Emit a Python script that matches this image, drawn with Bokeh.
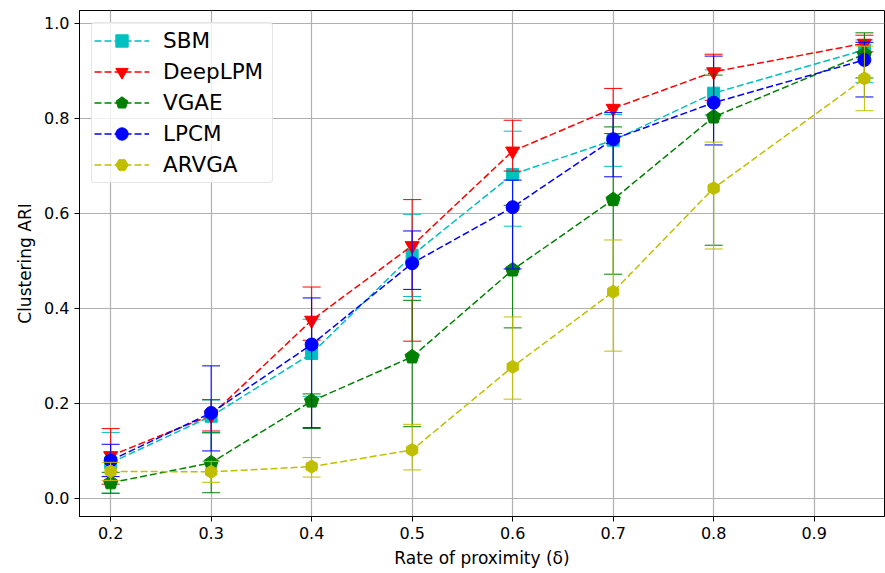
import numpy as np
from bokeh.plotting import figure
from bokeh.models import (ColumnDataSource, FixedTicker, Legend, LegendItem,
                          Range1d, PrintfTickFormatter)
from bokeh.embed import file_html
from bokeh.resources import INLINE

# ---- data ----
delta = [0.2, 0.3, 0.4, 0.5, 0.6, 0.7, 0.8, 0.95]

sbm_mean = [0.075, 0.173, 0.305, 0.512, 0.682, 0.754, 0.853, 0.944]
sbm_low = [0.011, 0.139, 0.215, 0.425, 0.573, 0.699, 0.807, 0.875]
sbm_high = [0.139, 0.207, 0.377, 0.598, 0.773, 0.808, 0.902, 0.965]

deeplpm_mean = [0.090, 0.175, 0.375, 0.532, 0.731, 0.821, 0.898, 0.958]
deeplpm_low = [0.030, 0.142, 0.333, 0.331, 0.689, 0.768, 0.838, 0.940]
deeplpm_high = [0.147, 0.208, 0.445, 0.629, 0.796, 0.863, 0.935, 0.975]

vgae_mean = [0.033, 0.075, 0.205, 0.298, 0.481, 0.629, 0.803, 0.935]
vgae_low = [0.011, 0.012, 0.147, 0.151, 0.359, 0.472, 0.533, 0.885]
vgae_high = [0.055, 0.138, 0.220, 0.417, 0.617, 0.782, 0.891, 0.980]

lpcm_mean = [0.080, 0.180, 0.324, 0.495, 0.613, 0.756, 0.833, 0.923]
lpcm_low = [0.046, 0.100, 0.149, 0.440, 0.483, 0.677, 0.744, 0.845]
lpcm_high = [0.114, 0.279, 0.422, 0.563, 0.670, 0.812, 0.931, 0.960]

arvga_mean = [0.057, 0.056, 0.067, 0.102, 0.277, 0.435, 0.653, 0.884]
arvga_low = [0.038, 0.034, 0.045, 0.060, 0.209, 0.310, 0.525, 0.816]
arvga_high = [0.076, 0.078, 0.086, 0.156, 0.382, 0.544, 0.750, 0.952]

x_ticks = [0.2, 0.3, 0.4, 0.5, 0.6, 0.7, 0.8, 0.9]
y_ticks = [0.0, 0.2, 0.4, 0.6, 0.8, 1.0]

series = [
    ("SBM", sbm_mean, sbm_low, sbm_high, "#00bfbf", "square"),
    ("DeepLPM", deeplpm_mean, deeplpm_low, deeplpm_high, "#ff0000", "inverted_triangle"),
    ("VGAE", vgae_mean, vgae_low, vgae_high, "#008000", "pentagon"),
    ("LPCM", lpcm_mean, lpcm_low, lpcm_high, "#0000ff", "circle"),
    ("ARVGA", arvga_mean, arvga_low, arvga_high, "#bfbf00", "hex"),
]

FONT = "DejaVu Sans"

p = figure(width=885, height=573, output_backend="svg", toolbar_location=None,
           x_range=Range1d(0.169, 0.970), y_range=Range1d(-0.038, 1.027),
           min_border_left=79, min_border_right=1, min_border_top=10,
           min_border_bottom=57)
p.background_fill_color = "white"
p.border_fill_color = "white"
p.outline_line_color = "black"
p.outline_line_width = 1

items = []
for name, mean, low, high, color, marker in series:
    src = ColumnDataSource(dict(x=delta, y=mean, low=low, high=high))
    p.segment(x0="x", y0="low", x1="x", y1="high", source=src,
              line_color=color, line_width=1)
    p.scatter(x="x", y="low", source=src, marker="dash", size=18,
              line_color=color, line_width=1)
    p.scatter(x="x", y="high", source=src, marker="dash", size=18,
              line_color=color, line_width=1)
    ln = p.line(x="x", y="y", source=src, line_color=color, line_width=1.5,
                line_dash="7 3")
    if marker == "pentagon":
        mk = p.ngon(x="x", y="y", source=src, radius=7.5, radius_units="screen",
                    n=5, angle=0, fill_color=color, line_color=color)
    elif marker == "hex":
        mk = p.scatter(x="x", y="y", source=src, marker="hex", size=13,
                       angle=np.pi / 6, fill_color=color, line_color=color)
    elif marker == "square":
        mk = p.scatter(x="x", y="y", source=src, marker="square", size=12,
                       fill_color=color, line_color=color)
    elif marker == "inverted_triangle":
        mk = p.scatter(x="x", y="y", source=src, marker="inverted_triangle",
                       size=14, fill_color=color, line_color=color)
    else:
        mk = p.scatter(x="x", y="y", source=src, marker="circle", size=13,
                       fill_color=color, line_color=color)
    items.append(LegendItem(label=name, renderers=[ln, mk]))

legend = Legend(items=items, location="top_left")
legend.margin = 12
legend.padding = 2
legend.spacing = 0
legend.glyph_width = 55
legend.glyph_height = 31
legend.label_height = 31
legend.label_width = 107
legend.label_standoff = 14
legend.label_text_font = FONT
legend.label_text_font_size = "21.5px"
legend.label_text_color = "black"
legend.border_line_color = "#cccccc"
legend.border_line_width = 1
legend.border_radius = 4
legend.background_fill_color = "white"
legend.background_fill_alpha = 0.8
p.add_layout(legend)

# axes
p.xaxis.ticker = FixedTicker(ticks=x_ticks)
p.yaxis.ticker = FixedTicker(ticks=y_ticks)
p.xaxis.formatter = PrintfTickFormatter(format="%.1f")
p.yaxis.formatter = PrintfTickFormatter(format="%.1f")
p.xaxis.axis_label = "Rate of proximity (δ)"
p.yaxis.axis_label = "Clustering ARI"
for ax in (p.xaxis, p.yaxis):
    ax.axis_line_color = "black"
    ax.axis_line_width = 1
    ax.major_tick_line_color = "black"
    ax.major_tick_out = 5
    ax.major_tick_in = 0
    ax.minor_tick_line_color = None
    ax.major_label_text_font = FONT
    ax.major_label_text_font_size = "16px"
    ax.major_label_text_color = "black"
    ax.axis_label_text_font = FONT
    ax.axis_label_text_font_size = "17px"
    ax.axis_label_text_font_style = "normal"
    ax.axis_label_text_color = "black"
    ax.major_label_standoff = 5
    ax.axis_label_standoff = 6

p.xgrid.ticker = FixedTicker(ticks=x_ticks)
p.ygrid.ticker = FixedTicker(ticks=y_ticks)
p.grid.grid_line_color = "#b0b0b0"
p.grid.grid_line_width = 1.2

open("out.html", "w").write(file_html(p, INLINE))
